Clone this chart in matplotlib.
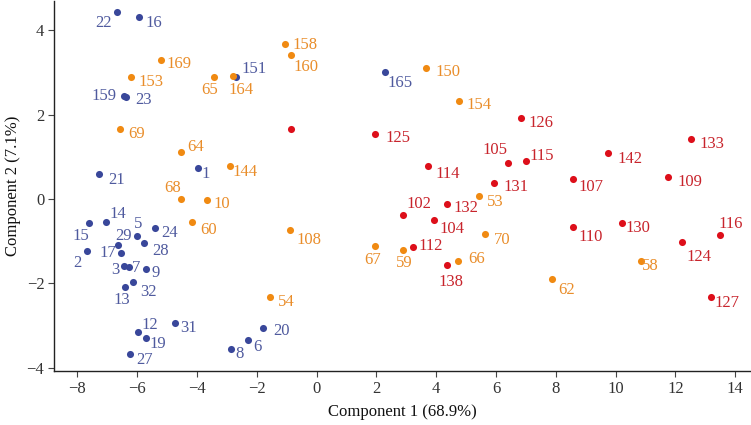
import matplotlib
matplotlib.use('Agg')
import matplotlib.pyplot as plt

# PCA scores, one set per group
blue_ids = [15, 14, 24, 5, 28, 29, 2, 17, 3, 7, 9, 32, 13, 31, 12, 19, 27,
            20, 6, 8, 22, 16, 151, 159, 23, 1, 21, 165]
blue_pc1 = [-7.60, -7.04, -5.40, -6.00, -5.77, -6.63, -7.67, -6.54, -6.44, -6.26,
            -5.70, -6.13, -6.39, -4.74, -5.96, -5.70, -6.24, -1.80, -2.29, -2.86,
            -6.66, -5.93, -2.70, -6.43, -6.36, -3.96, -7.26, 2.28]
blue_pc2 = [-0.56, -0.54, -0.68, -0.87, -1.04, -1.09, -1.23, -1.29, -1.58, -1.62,
            -1.66, -1.96, -2.08, -2.94, -3.15, -3.29, -3.67, -3.06, -3.34, -3.56,
            4.45, 4.31, 2.90, 2.45, 2.42, 0.74, 0.60, 3.02]

orange_ids = [54, 158, 160, 169, 153, 65, 164, 69, 64, 144, 68, 10, 60, 108,
              150, 154, 53, 70, 67, 59, 66, 62, 58]
orange_pc1 = [-1.57, -1.04, -0.85, -5.19, -6.20, -3.43, -2.79, -6.57, -4.53, -2.89,
              -4.53, -3.66, -4.15, -0.89, 3.65, 4.76, 5.42, 5.65, 1.95, 2.88,
              4.74, 7.89, 10.86]
orange_pc2 = [-2.33, 3.69, 3.43, 3.29, 2.90, 2.90, 2.93, 1.66, 1.12, 0.78,
              0.01, -0.02, -0.54, -0.73, 3.10, 2.33, 0.08, -0.82, -1.11, -1.20,
              -1.47, -1.89, -1.47]

red_ids = [None, 126, 125, 105, 115, 114, 131, 132, 102, 104, 112, 138,
           133, 142, 107, 109, 110, 130, 116, 124, 127]
red_pc1 = [-0.86, 6.85, 1.95, 6.39, 7.00, 3.72, 5.95, 4.37, 2.88, 3.92, 3.22, 4.35,
           12.54, 9.76, 8.59, 11.77, 8.59, 10.23, 13.49, 12.22, 13.19]
red_pc2 = [1.66, 1.93, 1.55, 0.86, 0.91, 0.79, 0.39, -0.11, -0.37, -0.49, -1.13, -1.56,
           1.43, 1.10, 0.47, 0.53, -0.66, -0.56, -0.85, -1.01, -2.32]

# label placement (pixels from the point, right / down), default lower right
label_offsets = {
    14: (12, -8), 15: (-8, 13), 5: (1, -12), 29: (5, -9), 24: (14, 5), 28: (17, 8),
    17: (-13, 0), 2: (-10, 12), 3: (-9, 4), 7: (7, 1), 9: (10, 4), 32: (15, 10),
    13: (-4, 13), 12: (11, -7), 31: (14, 5), 19: (12, 6), 27: (15, 6),
    20: (19, 3), 6: (9, 7), 8: (9, 5), 54: (17, 5),
    22: (-14, 11), 16: (15, 6), 158: (20, 1), 160: (15, 12), 169: (18, 4),
    153: (20, 5), 65: (-4, 13), 164: (8, 14), 151: (18, -8), 159: (-20, 0),
    23: (17, 3), 69: (16, 5), 64: (15, -5), 1: (8, 6), 144: (15, 6), 21: (17, 6),
    68: (-8, -11), 10: (15, 4), 60: (16, 8), 108: (19, 10),
    165: (15, 11), 150: (22, 4), 154: (20, 4), 126: (20, 5), 125: (23, 4),
    105: (-13, -13), 115: (16, -5), 114: (20, 8), 131: (22, 4), 53: (17, 6),
    132: (19, 4), 102: (16, -11), 104: (18, 9), 70: (17, 6), 67: (-2, 14),
    112: (18, -1), 59: (2, 13), 66: (18, -2), 138: (4, 17), 62: (14, 11),
    133: (20, 5), 142: (22, 6), 107: (18, 8), 109: (21, 5), 110: (17, 10),
    130: (15, 5), 116: (11, -11), 124: (17, 15), 58: (9, 5), 127: (16, 6),
}

groups = [
    (blue_ids, blue_pc1, blue_pc2, '#39479a', '#4f5a9e'),
    (orange_ids, orange_pc1, orange_pc2, '#f08a12', '#e98d2a'),
    (red_ids, red_pc1, red_pc2, '#dd0f1a', '#c8242c'),
]

plt.rcParams['font.family'] = ['Liberation Serif', 'DejaVu Serif']

fig = plt.figure(figsize=(7.51, 4.25), dpi=100)
ax = fig.add_axes([54 / 751, 54 / 425, 697 / 751, 370 / 425])

for ids, xs, ys, col, tcol in groups:
    ax.scatter(xs, ys, s=26, color=col, linewidths=0, zorder=3)
    for i, x, y in zip(ids, xs, ys):
        if i is None:
            continue
        dx, dy = label_offsets.get(i, (15, 6))
        ax.annotate(str(i), (x, y), xytext=(dx, -dy), textcoords='offset pixels',
                    ha='center', va='center', fontsize=12, color=tcol)

ax.set_xlim(-8.78, 14.53)
ax.set_ylim(-4.08, 4.70)
ax.set_xticks(range(-8, 15, 2))
ax.set_yticks([-4, -2, 0, 2, 4])
ax.spines['top'].set_visible(False)
ax.spines['right'].set_visible(False)
for s in ['left', 'bottom']:
    ax.spines[s].set_linewidth(1.0)
    ax.spines[s].set_color('#222222')
ax.tick_params(length=4, width=0.8, color='#444444', labelsize=12,
               labelcolor='#333333', pad=3)

ax.set_xlabel('Component 1 (68.9%)', fontsize=12, color='#111111', labelpad=5)
ax.set_ylabel('Component 2 (7.1%)', fontsize=12, color='#111111', labelpad=4)

fig.savefig('out.png', dpi=100)
